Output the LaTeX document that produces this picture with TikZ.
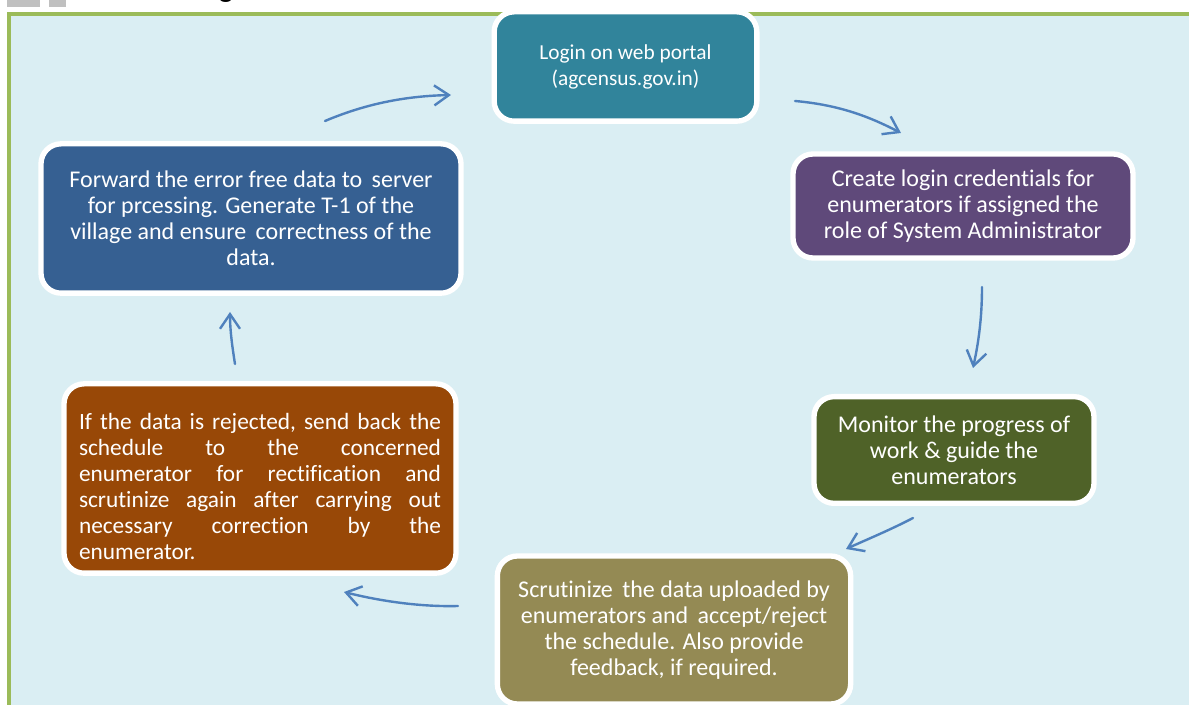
\documentclass[tikz,border=0pt]{standalone}
\usepackage{fontspec}
\setmainfont{Carlito}[Ligatures=NoCommon]
\usetikzlibrary{arrows.meta}

\definecolor{panelfill}{HTML}{DAEEF3}
\definecolor{panelline}{HTML}{9BBB59}
\definecolor{tealbox}{HTML}{31849B}
\definecolor{purplebox}{HTML}{5F497A}
\definecolor{greenbox}{HTML}{4F6228}
\definecolor{olivebox}{HTML}{948A54}
\definecolor{brownbox}{HTML}{984807}
\definecolor{bluebox}{HTML}{366092}
\definecolor{flowarrow}{HTML}{4F81BD}
\definecolor{tabgray}{HTML}{C0C0C0}

\tikzset{
  stepbox/.style={draw=white, line width=4pt, rounded corners=15pt,
    inner sep=0pt, text=white, align=center,
    font=\fontsize{18pt}{19.5pt}\selectfont},
  flow/.style={draw=flowarrow, line width=1.8pt, line cap=round,
    -{Straight Barb[length=11pt,width=15pt,line width=1.8pt]}}
}
% one fully justified line of the given width
\newcommand{\jline}[1]{\leavevmode\hbox to 271.5pt{#1}}

\begin{document}
\begin{tikzpicture}[x=0.75pt,y=-0.75pt]
\useasboundingbox (0,0) rectangle (1189,705);
\clip (0,0) rectangle (1189,705);

% header remnants above the panel
\fill[tabgray] (7,-2) rectangle (40,7);
\fill[tabgray] (49,-2) rectangle (66,7);
\node[anchor=base, inner sep=0pt, font=\bfseries\fontsize{22pt}{26pt}\selectfont] (headg) at (226,-2) {g};

% background panel
\draw[panelline, fill=panelfill, line width=2.4pt] (9,14) rectangle (1210,730);

% process steps
\node[stepbox, fill=tealbox, minimum width=197pt, minimum height=82pt,
      font=\fontsize{16pt}{19.5pt}\selectfont] (login) at (625.5,66.5)
  {Login on web portal\\(agcensus.gov.in)};
\node[stepbox, fill=purplebox, minimum width=255pt, minimum height=78pt] (create) at (963,206)
  {Create login credentials for\\enumerators if assigned the\\role of System Administrator};
\node[stepbox, fill=greenbox, minimum width=210pt, minimum height=80pt] (monitor) at (954,450)
  {Monitor the progress of\\work \& guide the\\enumerators};
\node[stepbox, fill=olivebox, minimum width=265pt, minimum height=111pt] (scrutinize) at (674,630)
  {Scrutinize \,the data uploaded by\\enumerators and \,accept/reject\\the schedule. Also provide\\feedback, if required.};
\node[stepbox, fill=brownbox, minimum width=294pt, minimum height=142pt] (reject) at (260,478.5) {};
\node[inner sep=0pt, text=white, align=left, text width=271.5pt,
      font=\fontsize{17.5pt}{19.5pt}\selectfont] (rejecttext) at (260,486)
  {\jline{If\hfill the\hfill data\hfill is\hfill rejected,\hfill send\hfill back\hfill the}\\
   \jline{schedule\hfill to\hfill the\hfill concerned}\\
   \jline{enumerator\hfill for\hfill rectification\hfill and}\\
   \jline{scrutinize\hfill again\hfill after\hfill carrying\hfill out}\\
   \jline{necessary\hfill correction\hfill by\hfill the}\\
   \jline{enumerator.\hfill}};
\node[stepbox, fill=bluebox, minimum width=315pt, minimum height=112pt] (forward) at (251,218.5)
  {Forward the error free data to \,server\\for prcessing. Generate T-1 of the\\village and ensure \,correctness of the\\data.};

% connector end points between the steps
\coordinate (fwdout) at (325,121);
\coordinate (loginin) at (451,95);
\coordinate (loginout) at (795,101);
\coordinate (createin) at (901,133);
\coordinate (createout) at (982,287);
\coordinate (monitorin) at (973,368);
\coordinate (monitorout) at (913,518);
\coordinate (scrutin) at (846,549);
\coordinate (scrutout) at (458,606);
\coordinate (rejectin) at (344,592);
\coordinate (rejectout) at (235,364);
\coordinate (forwardin) at (230,312);

% cycle of arrows
\draw[flow] (fwdout) .. controls (370,102) and (410,96) .. (loginin);
\draw[flow] (loginout) .. controls (840,105) and (870,117) .. (createin);
\draw[flow] (createout) .. controls (982,320) and (978,345) .. (monitorin);
\draw[flow] (monitorout) .. controls (890,530) and (868,539) .. (scrutin);
\draw[flow] (scrutout) .. controls (420,607) and (380,601) .. (rejectin);
\draw[flow] (rejectout) .. controls (232,345) and (230,330) .. (forwardin);
\end{tikzpicture}
\end{document}
